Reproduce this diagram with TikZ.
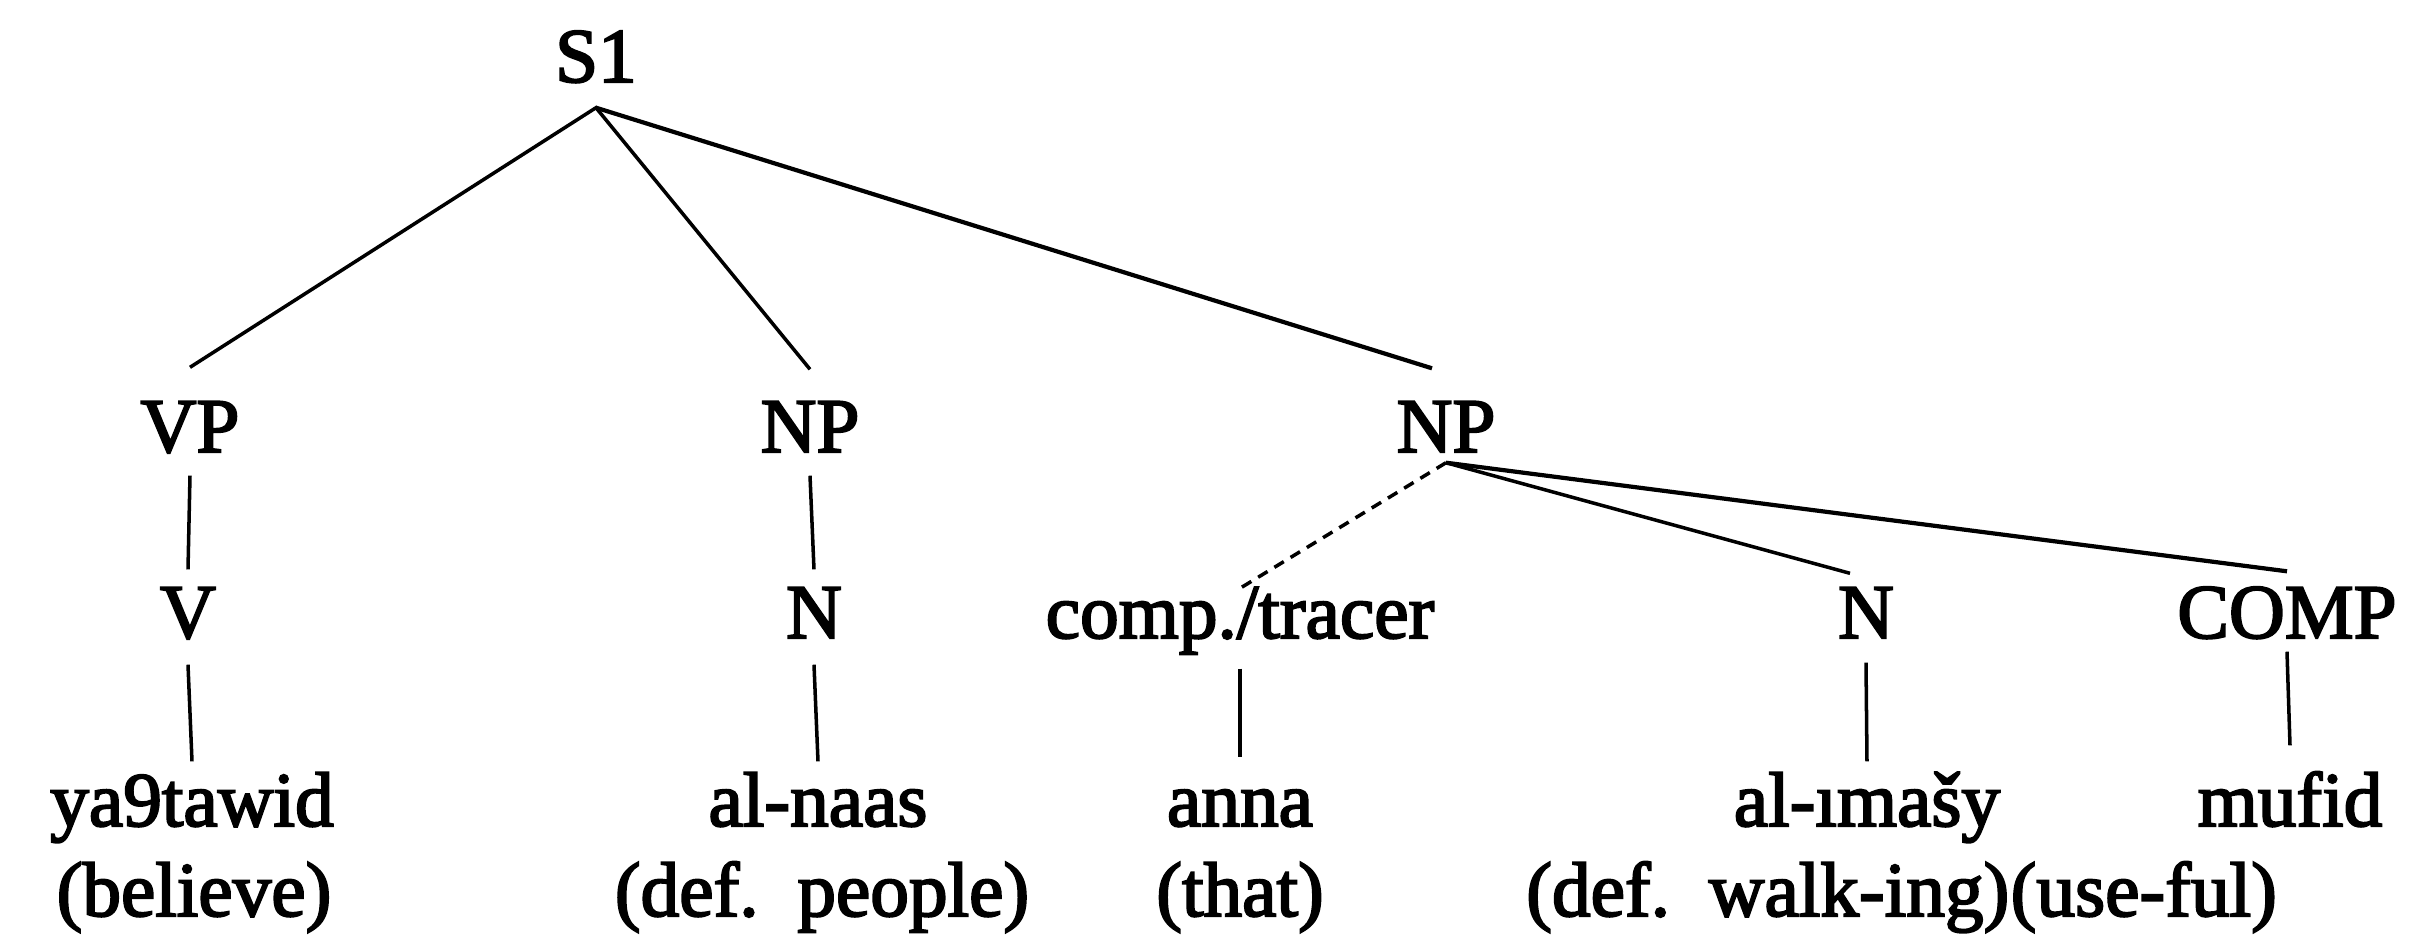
\documentclass[tikz,border=0pt]{standalone}
\usepackage{fontspec}
\setmainfont{Liberation Serif}
\newfontfamily\treefont[FakeBold=2.6]{Liberation Serif}
\begin{document}
\begin{tikzpicture}[x=0.1mm,y=-0.1mm,
  every node/.style={inner sep=0pt, anchor=base, font=\treefont\fontsize{22pt}{26pt}\selectfont},
  lab/.style 2 args={text height=#1, text depth=#2},
  branch/.style={line width=1pt},
  trace/.style={line width=1pt, dash pattern=on 1.1mm off 0.8mm}]
\useasboundingbox (0,0) rectangle (2433,945);

% root
\node[lab={0mm}{2.5mm}] (S1) at (596,82) {S1};

% phrase level
\node[lab={8.4mm}{2.3mm}] (VP)  at (190,452) {VP};
\node[lab={8.2mm}{2.3mm}] (NP1) at (810,452) {NP};
\node[lab={8.3mm}{1.0mm}] (NP2) at (1446,452) {NP};

% categories
\node[lab={6.8mm}{2.6mm}] (V)    at (188,638) {V};
\node[lab={6.8mm}{2.6mm}] (N1)   at (814,638) {N};
\node[lab={4.9mm}{3.0mm}] (CT)   at (1240,638) {comp./tracer};
\node[lab={6.4mm}{2.4mm}] (N2)   at (1866,638) {N};
\node[lab={6.6mm}{1.3mm}] (COMP) at (2287,638) {COMP};

% words
\node[lab={6.4mm}{0mm}] (w1) at (192,826) {ya9tawid};
\node[lab={6.4mm}{0mm}] (w2) at (818,826) {al-naas};
\node[lab={6.8mm}{0mm}] (w3) at (1240,826) {anna};
\node[lab={6.4mm}{0mm}] (w4) at (1867,826) {al-ımašy};
\node[lab={8.0mm}{0mm}] (w5) at (2290,826) {mufid};

% glosses
\node (g1) at (194,916) {(believe)};
\node (g2) at (822,916) {(def.~~people)};
\node (g3) at (1240,916) {(that)};
\node[anchor=base east] (g4) at (2010,916) {(def.~~walk-ing)};
\node[anchor=base west] (g5) at (g4.base east) {(use-ful)};

% branches
\draw[branch] (VP.north) -- (S1.south) -- (NP1.north);
\draw[branch, line width=1.2pt] (S1.south) -- ([xshift=-1.4mm]NP2.north);
\draw[branch] (VP.south) -- (V.north);
\draw[branch] (NP1.south) -- (N1.north);
\draw[trace] (NP2.south) -- (CT.north);
\draw[branch] (NP2.south) -- ([xshift=-1.6mm]N2.north);
\draw[branch, line width=1.2pt] (NP2.south) -- (COMP.north);
\draw[branch] (V.south) -- (w1.north);
\draw[branch] (N1.south) -- (w2.north);
\draw[branch] (CT.south) -- (w3.north);
\draw[branch] (N2.south) -- (w4.north);
\draw[branch] (COMP.south) -- (w5.north);
\end{tikzpicture}
\end{document}
